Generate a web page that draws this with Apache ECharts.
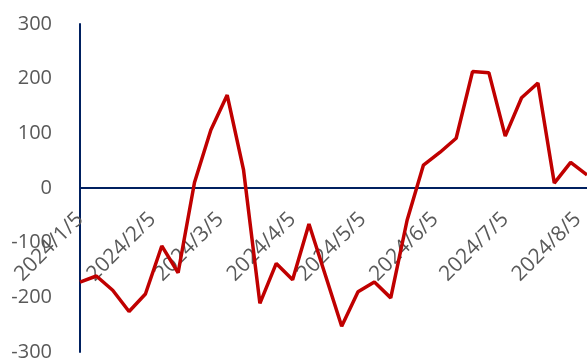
<!DOCTYPE html>
<html>
<head>
<meta charset="utf-8">
<script src="https://cdn.jsdelivr.net/npm/echarts@6/dist/echarts.min.js"></script>
<style>
html,body{margin:0;padding:0;background:#fff;}
#chart{width:587px;height:360px;}
</style>
</head>
<body>
<div id="chart"></div>
<script>
// Weekly dates
var dates = ['2024-01-05','2024-01-12','2024-01-19','2024-01-26','2024-02-02','2024-02-09','2024-02-16','2024-02-23',
  '2024-03-01','2024-03-08','2024-03-15','2024-03-22','2024-03-29','2024-04-05','2024-04-12','2024-04-19',
  '2024-04-26','2024-05-03','2024-05-10','2024-05-17','2024-05-24','2024-05-31','2024-06-07','2024-06-14',
  '2024-06-21','2024-06-28','2024-07-05','2024-07-12','2024-07-19','2024-07-26','2024-08-02','2024-08-09'];
var values = [-172,-161,-187,-226,-194,-106,-155,10,
  106,170,33,-211,-138,-168,-66,-159,
  -253,-190,-172,-201,-59,42,65,91,
  213,211,95,165,192,9,47,24];
// Tick label dates on the x axis
var tickDates = ['2024-01-05','2024-02-05','2024-03-05','2024-04-05','2024-05-05','2024-06-05','2024-07-05','2024-08-05'];
var yMin = -300, yMax = 300, yStep = 100;

function ts(s){ var p = s.split('-'); return Date.UTC(+p[0], +p[1]-1, +p[2]); }
function fmt(v){ var d = new Date(v); return d.getUTCFullYear() + '/' + (d.getUTCMonth()+1) + '/' + d.getUTCDate(); }

var gridTop = 24, gridBottom = 8, H = 360;
var plotH = H - gridTop - gridBottom;
// distance from grid bottom to the zero line
var zeroOffset = plotH * (0 - yMin) / (yMax - yMin);

var chart = echarts.init(document.getElementById('chart'), null, {renderer:'canvas'});
var navy = '#002060';
var gray = '#595959';
var font = 'Open Sans';
chart.setOption({
  animation: false,
  grid: {left: 80, right: 0, top: gridTop, bottom: gridBottom, containLabel: false, outerBoundsMode: 'none'},
  xAxis: {
    type: 'value',
    position: 'bottom',
    offset: -zeroOffset,
    min: ts(dates[0]),
    max: ts(dates[dates.length-1]),
    axisLine: {show: true, onZero: false, lineStyle: {color: navy, width: 2}},
    axisTick: {show: false},
    splitLine: {show: false},
    axisLabel: {
      customValues: tickDates.map(ts),
      rotate: 45,
      margin: 28,
      color: gray,
      fontFamily: font,
      fontSize: 21,
      hideOverlap: false,
      showMinLabel: true,
      showMaxLabel: true,
      formatter: function(v){ return fmt(v); }
    }
  },
  yAxis: {
    type: 'value',
    min: yMin, max: yMax, interval: yStep,
    axisLine: {show: true, onZero: false, lineStyle: {color: navy, width: 2}},
    axisTick: {show: false},
    splitLine: {show: false},
    axisLabel: {color: gray, fontFamily: font, fontSize: 20, margin: 28}
  },
  series: [{
    type: 'line',
    data: dates.map(function(d, i){ return [ts(d), values[i]]; }),
    symbol: 'none',
    lineStyle: {color: '#C00000', width: 3.5},
    itemStyle: {color: '#C00000'},
    z: 1
  }]
});
</script>
</body>
</html>
